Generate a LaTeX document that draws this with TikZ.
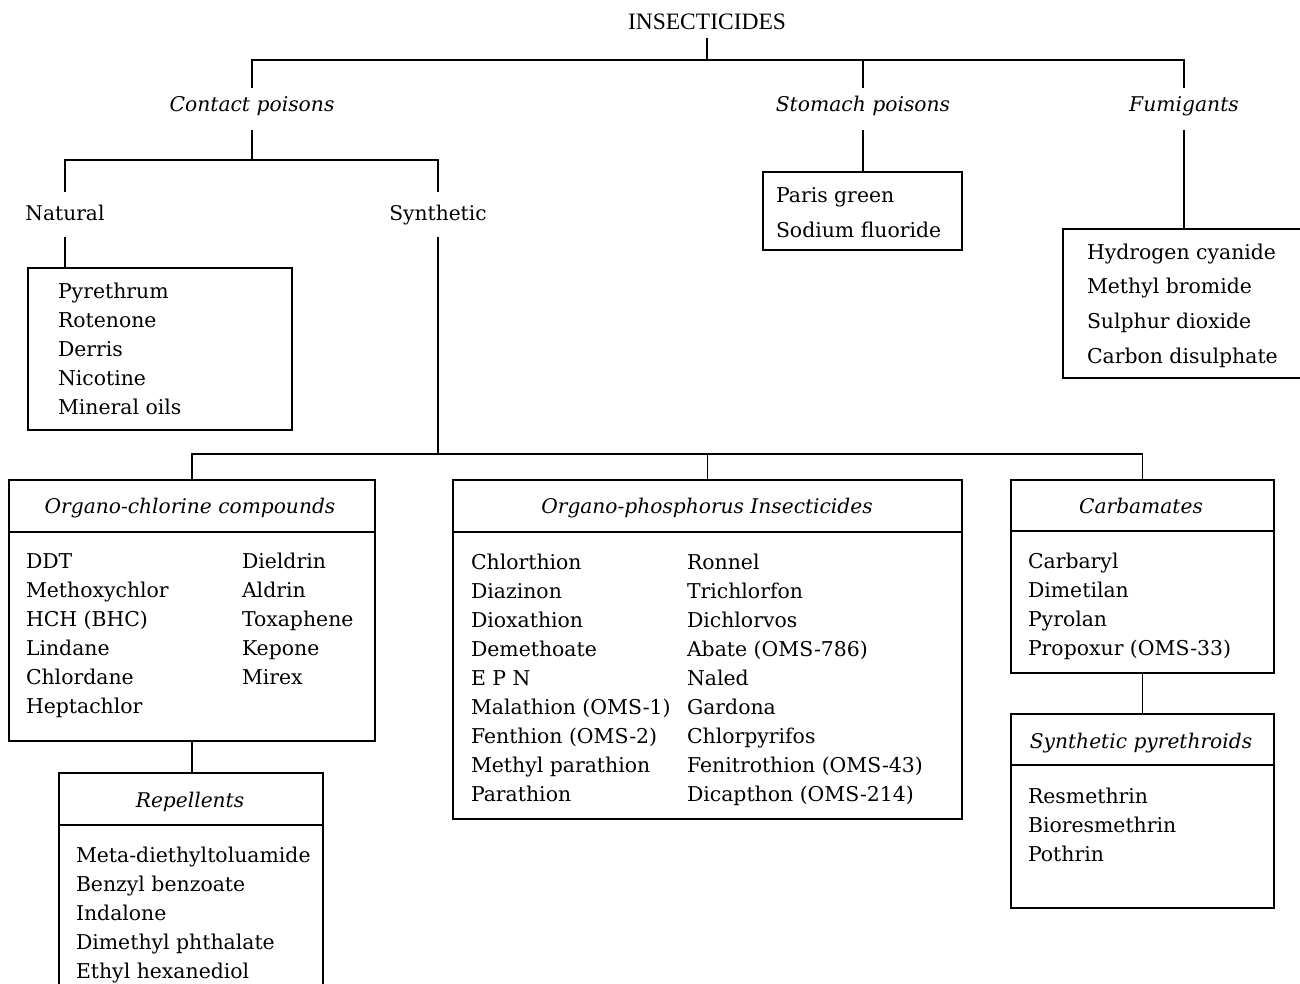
\documentclass[tikz,border=0pt]{standalone}
\usepackage{fontspec}
\setmainfont{DejaVu Serif}
\newfontfamily\ttlfont{Liberation Serif}
\begin{document}
\begin{tikzpicture}[x=1pt,y=-1pt,
  every node/.style={inner sep=0pt, outer sep=0pt},
  conn/.style={line width=1.3pt},
  box/.style={draw, line width=1.3pt, rectangle, anchor=north west, inner sep=0pt, outer sep=0pt},
  item/.style={anchor=base west, font=\fontsize{20.4}{24}\selectfont},
  hdr/.style={anchor=base, font=\fontsize{20.2}{24}\selectfont\itshape},
  lvl/.style={anchor=base, text height=15pt, text depth=9pt, inner ysep=9pt, font=\fontsize{20.3}{24}\selectfont\itshape},
  sub/.style={anchor=base, text height=23pt, text depth=10pt, inner ysep=6pt, font=\fontsize{20.2}{24}\selectfont}
]
\useasboundingbox (0,0) rectangle (1300,984);
\clip (0,0) rectangle (1300,984);
\fill[white] (0,0) rectangle (1300,984);

% level texts
\node[anchor=base, text depth=4pt, inner ysep=4pt, font=\ttlfont\fontsize{23.5}{26}\selectfont] (ins) at (707,30) {INSECTICIDES};
\node[lvl] (contact) at (252,112) {Contact poisons};
\node[lvl] (stomach) at (863,112) {Stomach poisons};
\node[lvl] (fum) at (1184,112) {Fumigants};
\node[sub] (nat) at (65,221) {Natural};
\node[sub] (syn) at (438,221) {Synthetic};

% boxes
\node[box, minimum width=264pt, minimum height=162pt] (natbox) at (28,268) {};
\node[box, minimum width=199pt, minimum height=78pt] (stbox) at (763,172) {};
\node[box, minimum width=250pt, minimum height=149pt] (fumbox) at (1063,229) {};
\node[box, minimum width=366pt, minimum height=261pt] (ocbox) at (9,480) {};
\node[box, minimum width=264pt, minimum height=240pt] (repbox) at (59,773) {};
\node[box, minimum width=509pt, minimum height=339pt] (opbox) at (453,480) {};
\node[box, minimum width=263pt, minimum height=193pt] (carbbox) at (1011,480) {};
\node[box, minimum width=263pt, minimum height=194pt] (spbox) at (1011,714) {};

% header dividers
\draw[conn] (ocbox.west |- 0,532) -- (ocbox.east |- 0,532);
\draw[conn] (opbox.west |- 0,532) -- (opbox.east |- 0,532);
\draw[conn] (carbbox.west |- 0,531) -- (carbbox.east |- 0,531);
\draw[conn] (spbox.west |- 0,765) -- (spbox.east |- 0,765);
\draw[conn] (repbox.west |- 0,825) -- (repbox.east |- 0,825);

% headers
\node[hdr] (octitle) at (190,513) {Organo-chlorine compounds};
\node[hdr] (optitle) at (707,513) {Organo-phosphorus Insecticides};
\node[hdr] (carbtitle) at (1141,513) {Carbamates};
\node[hdr] (sptitle) at (1141,748) {Synthetic pyrethroids};
\node[hdr] (reptitle) at (190,807) {Repellents};

% connectors
\coordinate (j1) at (707,60);
\coordinate (j2) at (252,160);
\coordinate (j3) at (438,454);
\draw[conn] (ins.south) -- (j1);
\draw[conn] (contact.north) |- (j1) -| (fum.north);
\draw[conn] (stomach.north) -- (stomach.north |- j1);
\draw[conn] (contact.south) -- (j2);
\draw[conn] (nat.north) |- (j2) -| (syn.north);
\draw[conn] (nat.south) -- (nat.south |- natbox.north);
\draw[conn] (stomach.south) -- (stomach.south |- stbox.north);
\draw[conn] (fum.south) -- (fum.south |- fumbox.north);
\draw[conn] (syn.south) -- (j3);
\draw[conn] (ocbox.north) |- (j3) -| (carbbox.north);
\draw[conn] (opbox.north) -- (opbox.north |- j3);
\draw[conn] (ocbox.south) -- (ocbox.south |- repbox.north);
\draw[conn] (carbbox.south) -- (spbox.north);

% items
\foreach \t [count=\i] in {Pyrethrum,Rotenone,Derris,Nicotine,Mineral oils}
  \node[item] (nati\i) at (58,{298+29.2*(\i-1)}) {\t};
\foreach \t [count=\i] in {Paris green,Sodium fluoride}
  \node[item] (sti\i) at (776,{203+35*(\i-1)}) {\t};
\foreach \t [count=\i] in {Hydrogen cyanide,Methyl bromide,Sulphur dioxide,Carbon disulphate}
  \node[item] (fumi\i) at (1087,{259+34.7*(\i-1)}) {\t};
\foreach \t [count=\i] in {DDT,Methoxychlor,HCH (BHC),Lindane,Chlordane,Heptachlor}
  \node[item] (ocl\i) at (26,{568+29*(\i-1)}) {\t};
\foreach \t [count=\i] in {Dieldrin,Aldrin,Toxaphene,Kepone,Mirex}
  \node[item] (ocr\i) at (242,{568+29*(\i-1)}) {\t};
\foreach \t [count=\i] in {Chlorthion,Diazinon,Dioxathion,Demethoate,E P N,Malathion (OMS-1),Fenthion (OMS-2),Methyl parathion,Parathion}
  \node[item] (opl\i) at (471,{569+29.1*(\i-1)}) {\t};
\foreach \t [count=\i] in {Ronnel,Trichlorfon,Dichlorvos,Abate (OMS-786),Naled,Gardona,Chlorpyrifos,Fenitrothion (OMS-43),Dicapthon (OMS-214)}
  \node[item] (opr\i) at (687,{569+29.1*(\i-1)}) {\t};
\foreach \t [count=\i] in {Carbaryl,Dimetilan,Pyrolan,Propoxur (OMS-33)}
  \node[item] (carbi\i) at (1028,{568+29*(\i-1)}) {\t};
\foreach \t [count=\i] in {Resmethrin,Bioresmethrin,Pothrin}
  \node[item] (spi\i) at (1028,{803+29*(\i-1)}) {\t};
\foreach \t [count=\i] in {Meta-diethyltoluamide,Benzyl benzoate,Indalone,Dimethyl phthalate,Ethyl hexanediol}
  \node[item] (repi\i) at (76,{862+29*(\i-1)}) {\t};
\end{tikzpicture}
\end{document}
